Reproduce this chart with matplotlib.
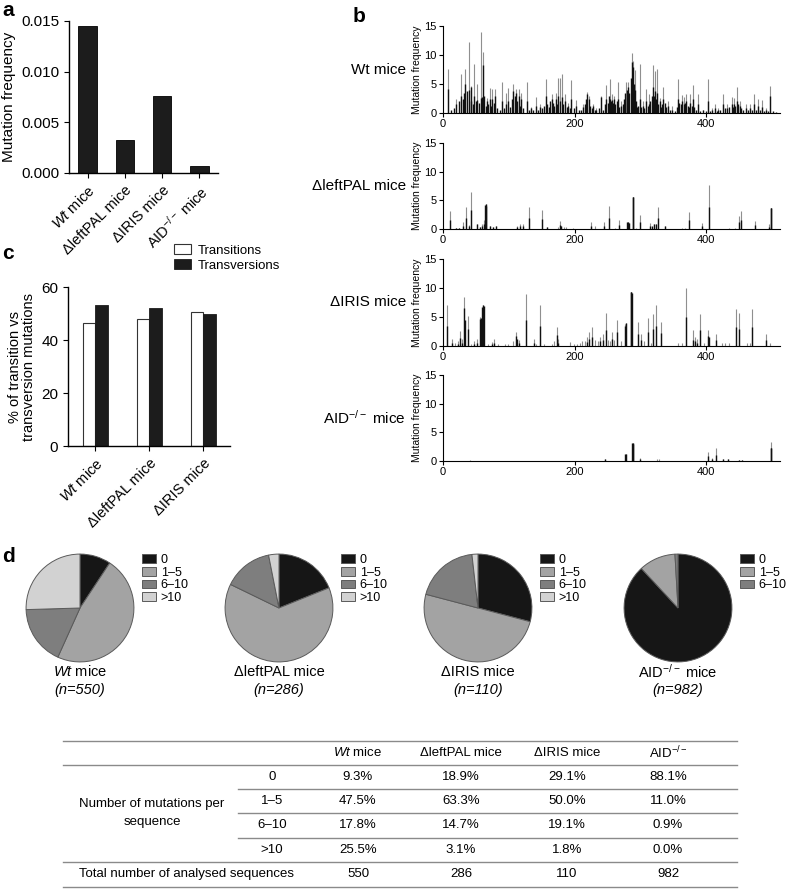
import matplotlib
matplotlib.use("Agg")
import matplotlib.pyplot as plt
from matplotlib.patches import Patch

plt.rcParams['font.family'] = ['Liberation Sans', 'DejaVu Sans']
plt.rcParams['mathtext.fontset'] = 'custom'
plt.rcParams['mathtext.rm'] = 'Liberation Sans'
plt.rcParams['mathtext.it'] = 'Liberation Sans:italic'
plt.rcParams['axes.linewidth'] = 1.0

# ---------------- data ----------------
mice = [r"$\it{Wt}$ mice", "\u0394leftPAL mice", "\u0394IRIS mice", r"AID$^{-/-}$ mice"]
mut_freq = [0.0145, 0.0033, 0.0076, 0.0007]

tt_groups = [r"$\it{Wt}$ mice", "\u0394leftPAL mice", "\u0394IRIS mice"]
transitions = [46.6, 47.8, 50.4]
transversions = [53.2, 52.2, 49.7]

# panel b: position along sequence, mutation frequency (grey = total, black = part)
wt_pos = [7, 19, 27, 34, 39.5, 43, 47.6, 52, 57, 61, 67, 71, 75, 79, 89, 95, 99, 107, 111, 115,
          119, 127, 133, 141, 147, 156, 165, 171, 175, 178, 181, 186, 190, 195, 202, 212, 219, 222,
          228, 233, 240, 248, 253, 257, 260, 266, 271, 277.5, 281, 286.6, 288.6, 291.6, 298.7, 303.8,
          308.9, 312.9, 319, 322, 325, 329, 335, 342, 348, 357.5, 363.5, 366, 369.6, 375.7, 380, 388,
          395, 402, 409, 413, 418, 425, 432, 438.5, 442.5, 446, 450.6, 459.7, 466, 472, 479, 484, 490, 497]
wt_grey = [7.6, 2.5, 6.7, 7.6, 12.3, 4.7, 8.4, 5.0, 13.9, 10.5, 2.6, 4.3, 4.1, 4.1, 5.4, 3.5, 4.3, 5.0, 4.1, 4.2,
           3.5, 5.4, 1.0, 2.7, 1.5, 5.8, 3.3, 3.5, 6.1, 6.0, 6.8, 3.2, 1.8, 5.7, 2.3, 1.5, 3.6, 2.9,
           1.6, 0.8, 2.9, 4.8, 5.8, 3.2, 2.9, 5.4, 2.0, 5.3, 5.3, 10.4, 8.9, 7.4, 8.5, 2.0,
           4.1, 3.2, 8.3, 7.3, 7.6, 2.6, 4.4, 2.0, 1.2, 5.8, 3.1, 2.7, 3.3, 3.3, 4.8, 3.3,
           0.6, 5.8, 0.8, 1.6, 0.8, 3.2, 1.6, 2.7, 2.6, 4.4, 2.0, 1.5, 1.5, 3.3, 2.5, 2.2, 0.8, 4.6]
wt_bpos = [7, 12, 17, 20, 24, 27, 30, 32, 34, 37, 39.5, 42, 43, 46, 47.6, 50, 52, 55, 57, 59, 61, 63, 65, 67,
           69, 71, 73, 75, 77, 79, 82, 86, 89, 92, 95, 99, 102, 105, 107, 109, 111, 113, 115, 117, 119,
           122, 127, 130, 133, 137, 141, 144, 147, 151, 154, 156, 158, 161, 163, 165, 167, 169, 171, 173,
           175, 178, 181, 183, 186, 188, 190, 193, 195, 199, 202, 206, 209, 212, 215, 217, 219, 222, 224,
           226, 228, 231, 233, 237, 240, 243, 246, 248, 250, 252, 253, 255, 257, 259, 260, 262, 264, 266,
           268, 271, 273, 275, 277, 279, 281, 283, 285, 286.6, 288.6, 290, 291.6, 293, 295, 297, 298.7,
           301, 304, 306, 309, 311, 313, 315, 317, 319, 321, 322, 324, 325, 327, 329, 331, 333, 335, 337,
           339, 342, 345, 348, 352, 355, 357.5, 359, 361, 363.5, 366, 368, 369.6, 372, 374, 375.7, 378,
           380, 382, 385, 388, 391, 395, 400, 402, 406, 409, 413, 416, 418, 421, 425, 428, 432, 435, 438.5,
           440, 442.5, 444, 446, 448, 450.6, 453, 456, 459.7, 463, 466, 469, 472, 475, 479, 482, 484, 487,
           490, 494, 497, 502, 506]
wt_black = [4.1, 0.5, 0.8, 1.5, 2.0, 3.0, 2.5, 3.5, 5.0, 3.8, 4.0, 2.0, 4.5, 1.5, 3.0, 2.0, 2.2, 1.8, 2.6, 2.8, 8.2, 3.0, 1.2, 2.0,
            1.5, 2.5, 1.2, 2.5, 1.8, 3.0, 0.8, 0.6, 2.0, 0.8, 1.5, 2.0, 1.0, 2.5, 3.8, 3.0, 3.5, 2.0, 3.0, 1.2, 2.5,
            0.8, 2.0, 0.6, 0.8, 0.5, 1.2, 0.6, 1.0, 0.8, 1.2, 3.0, 1.5, 1.0, 2.0, 2.5, 1.8, 1.2, 2.5, 1.5,
            3.0, 2.0, 2.8, 1.5, 2.0, 1.0, 1.2, 0.8, 2.5, 0.8, 1.2, 0.6, 0.5, 1.0, 1.5, 2.5, 3.3, 2.5, 1.2,
            0.8, 1.2, 0.5, 0.6, 0.8, 2.8, 0.6, 1.5, 2.5, 1.8, 3.0, 2.5, 2.0, 2.2, 1.8, 2.5, 1.5, 2.0, 2.5,
            1.0, 1.2, 1.5, 2.5, 3.5, 4.0, 4.5, 3.5, 6.0, 8.8, 8.0, 5.0, 4.0, 2.0, 1.0, 1.2, 2.5,
            1.0, 1.2, 0.8, 2.0, 1.2, 1.5, 2.0, 3.0, 4.5, 3.0, 3.8, 2.5, 3.5, 1.5, 2.0, 1.0, 1.5, 2.5, 1.8,
            1.0, 1.2, 0.5, 0.6, 0.4, 1.0, 2.5, 1.8, 1.5, 2.0, 1.5, 1.8, 2.0, 1.2, 1.0, 1.8, 1.2,
            2.4, 1.0, 0.6, 1.5, 0.4, 0.5, 0.3, 2.0, 0.3, 0.5, 0.8, 0.4, 0.5, 0.6, 1.5, 0.8, 0.9, 1.0, 1.5,
            1.0, 1.5, 1.2, 2.0, 1.5, 1.2, 0.8, 0.5, 0.8, 0.5, 0.9, 0.6, 1.6, 0.5, 1.2, 0.5, 1.1, 0.4,
            0.5, 0.3, 3.0, 0.3, 0.2]

pal_pos = [10, 20, 25, 31, 35.5, 39, 43, 51, 56, 60, 62, 65, 72, 76, 81, 112, 117, 121, 130, 151, 158, 174,
           177, 180, 184, 187, 197, 225, 231, 244, 252, 261, 268, 280.5, 282.5, 288.6, 293.5, 300, 314,
           320, 323, 327, 338, 363, 368, 373, 394, 404, 435, 444, 449, 453, 474, 495, 499]
pal_grey = [3.1, 0.2, 0.2, 1.3, 3.8, 0.7, 6.4, 0.8, 0.3, 0.8, 1.5, 4.3, 0.6, 0.4, 0.5, 0.6, 0.8, 0.8, 3.9, 3.4, 0.35, 0.35,
            1.4, 0.6, 0.4, 0.4, 0.1, 1.3, 0.6, 1.2, 4.0, 0.2, 1.5, 1.3, 1.0, 5.6, 0.2, 2.4, 1.1,
            0.8, 0.8, 3.8, 0.6, 0.2, 0.2, 3.0, 1.0, 7.6, 0.1, 0.2, 2.3, 3.1, 1.4, 0.8, 3.6]
pal_bpos = [10, 20, 25, 31, 35.5, 39, 43, 51, 56, 60, 62, 64, 65, 66, 72, 76, 81, 112, 117, 121, 130, 151, 158,
            177, 180, 225, 244, 252, 268, 279, 280.5, 282.5, 288, 289, 300, 314, 318, 320, 323, 327, 338,
            373, 394, 404, 449, 453, 474, 495, 498, 499]
pal_black = [1.5, 0.2, 0.2, 0.6, 2.0, 0.5, 3.3, 0.8, 0.3, 0.5, 0.8, 4.2, 4.3, 4.0, 0.6, 0.4, 0.5, 0.4, 0.5, 0.6, 2.0, 1.7, 0.3,
             0.7, 0.5, 0.6, 0.6, 2.0, 0.7, 1.3, 1.3, 1.0, 5.6, 5.6, 1.2, 0.6, 0.6, 0.8, 0.8, 2.0, 0.6,
             1.5, 0.5, 3.8, 1.2, 1.6, 0.7, 0.4, 3.6, 3.6]

iris_pos = [6, 14, 18, 23, 26, 29, 32.4, 38.5, 42.5, 47.5, 51.6, 56.7, 60.8, 69, 74, 77, 84, 94, 99, 107, 111,
            115, 125.5, 138, 142, 147, 154, 165, 169, 173, 175, 193, 199, 203.5, 207.5, 211.6, 215.6, 218.6,
            221.7, 226.8, 230.9, 236, 239, 243, 248, 251, 254, 257, 260, 264.8, 271, 276.5, 278.5, 285.6,
            296.7, 300.8, 304.8, 311, 316, 319, 323, 331, 357.5, 363.5, 368.6, 380, 383, 386, 390, 396,
            402.5, 415, 424, 429, 435, 444.5, 449, 462, 466, 470, 491, 497]
iris_grey = [7.0, 1.2, 0.6, 0.8, 2.6, 1.2, 8.4, 5.2, 0.4, 0.8, 1.2, 5.0, 7.0, 0.4, 0.7, 1.2, 0.4, 0.4, 0.4, 0.8, 2.4,
             1.0, 9.0, 1.2, 0.4, 7.0, 0.4, 0.4, 0.8, 3.2, 1.2, 0.7, 0.3, 0.4, 0.6, 0.8, 0.8, 1.5,
             2.4, 3.2, 1.0, 0.9, 1.6, 2.0, 5.7, 1.0, 0.9, 2.5, 1.0, 4.4, 0.8, 3.8, 4.0, 9.3,
             4.1, 2.1, 0.8, 4.8, 0.6, 5.6, 7.0, 4.1, 0.6, 0.6, 10.0, 2.7, 1.5, 1.2, 5.6, 0.6,
             2.7, 2.1, 0.6, 0.6, 0.6, 6.4, 5.7, 0.6, 0.6, 6.4, 2.1, 0.6]
iris_bpos = [6, 14, 23, 26, 29, 32, 33, 38.5, 47.5, 51.6, 56, 57, 60, 61, 62, 74, 77, 111, 112, 115, 125.5, 138, 147,
             173, 175, 218.6, 221.7, 226.8, 239, 243, 248, 257, 264.8, 276.5, 278.5, 285, 286, 287,
             296.7, 300.8, 311, 319, 323, 331, 368.6, 380, 383, 386, 390, 402.5, 403.5, 415, 444.5, 449,
             470, 491]
iris_black = [3.5, 0.6, 0.4, 1.3, 0.6, 6.6, 4.5, 2.9, 0.4, 0.6, 4.6, 4.8, 6.8, 7.0, 6.9, 0.4, 0.6, 1.8, 1.2, 0.5, 4.5, 0.6, 3.5,
              1.9, 0.6, 0.7, 1.2, 1.6, 0.8, 1.0, 2.8, 1.2, 2.4, 3.5, 4.0, 9.3, 9.3, 9.2,
              2.0, 1.0, 2.4, 3.0, 3.5, 2.2, 5.0, 1.0, 0.8, 0.6, 2.8, 1.8, 1.6, 1.0, 3.2, 2.9,
              3.2, 1.0]

aid_pos = [41, 246, 277.5, 288, 299, 325, 328, 402, 409, 415, 426, 433, 450, 454, 499]
aid_grey = [0.25, 0.35, 1.3, 3.1, 0.6, 0.35, 0.35, 1.5, 0.6, 2.2, 0.4, 0.4, 0.25, 0.25, 3.3]
aid_bpos = [246, 277, 278, 287, 288, 289, 299, 402, 409, 415, 426, 433, 450, 454, 498, 499]
aid_black = [0.3, 1.3, 1.2, 3.1, 3.1, 3.0, 0.3, 0.8, 0.4, 1.1, 0.3, 0.3, 0.2, 0.2, 2.2, 2.2]

# panel d
pie_labels = ["0", "1\u20135", "6\u201310", ">10"]
wt_pct = [9.3, 47.5, 17.8, 25.5]
pal_pct = [18.9, 63.3, 14.7, 3.1]
iris_pct = [29.1, 50.0, 19.1, 1.8]
aid_pct = [88.1, 11.0, 0.9, 0.0]
n_seq = [550, 286, 110, 982]
pie_colors = ["#161616", "#a3a3a3", "#7e7e7e", "#d2d2d2"]

W, H = 788, 890
fig = plt.figure(figsize=(W / 100, H / 100), dpi=100)


def box(l, t, r, b):
    return [l / W, 1 - b / H, (r - l) / W, (b - t) / H]


def clean(ax):
    ax.spines['top'].set_visible(False)
    ax.spines['right'].set_visible(False)


# ---------------- a ----------------
ax = fig.add_axes(box(69, 21, 218, 173))
ax.bar(range(4), mut_freq, width=0.49, color="#1c1c1c", edgecolor="black", lw=0.6)
ax.set_xlim(-0.5, 3.5)
ax.set_ylim(0, 0.015)
ax.set_yticks([0, 0.005, 0.010, 0.015])
ax.set_yticklabels(["0.000", "0.005", "0.010", "0.015"], fontsize=11)
ax.set_xticks(range(4))
ax.set_xticklabels(mice, rotation=45, ha='right', rotation_mode='anchor', fontsize=10.5)
ax.set_ylabel("Mutation frequency", fontsize=11, labelpad=4)
clean(ax)
fig.text(2 / W, 1 - 16 / H, "a", fontsize=15, fontweight='bold')

# ---------------- b ----------------
b_rows = [
    ("Wt mice", wt_pos, wt_grey, wt_bpos, wt_black, (26, 113)),
    ("\u0394leftPAL mice", pal_pos, pal_grey, pal_bpos, pal_black, (143, 229)),
    ("\u0394IRIS mice", iris_pos, iris_grey, iris_bpos, iris_black, (259, 346)),
    (r"AID$^{-/-}$ mice", aid_pos, aid_grey, aid_bpos, aid_black, (375, 461)),
]
for name, gp, gv, bp, bv, (t, b) in b_rows:
    ax = fig.add_axes(box(443, t, 780, b))
    ax.vlines(gp, 0, gv, color="#8f8f8f", lw=0.8)
    ax.vlines(bp, 0, bv, color="#111111", lw=1.0)
    ax.set_xlim(0, 512)
    ax.set_ylim(0, 15)
    ax.set_yticks([0, 5, 10, 15])
    ax.set_xticks([0, 200, 400])
    ax.tick_params(labelsize=8, length=3, width=0.8, pad=1.5)
    ax.set_ylabel("Mutation frequency", fontsize=7.5, labelpad=2)
    for s in ['left', 'bottom']:
        ax.spines[s].set_linewidth(0.8)
    clean(ax)
    ax.text(-0.11, 0.5, name, transform=ax.transAxes, ha='right', va='center', fontsize=11)
fig.text(353 / W, 1 - 22 / H, "b", fontsize=15, fontweight='bold')

# ---------------- c ----------------
ax = fig.add_axes(box(68, 287, 230, 446))
xs = range(3)
ax.bar([x - 0.11 for x in xs], transitions, width=0.21, color="white", edgecolor="#333333", lw=0.8,
       label="Transitions")
ax.bar([x + 0.12 for x in xs], transversions, width=0.24, color="#1c1c1c", edgecolor="#1c1c1c", lw=0.6,
       label="Transversions")
ax.set_xlim(-0.5, 2.5)
ax.set_ylim(0, 60)
ax.set_yticks([0, 20, 40, 60])
ax.tick_params(axis='y', labelsize=11)
ax.set_xticks(list(xs))
ax.set_xticklabels(tt_groups, rotation=45, ha='right', rotation_mode='anchor', fontsize=10.5)
ax.set_ylabel("% of transition vs\ntransversion mutations", fontsize=10.5, labelpad=4, linespacing=1.0)
clean(ax)
ax.legend(loc='upper left', bbox_to_anchor=(174 / W, 1 - 244 / H), bbox_transform=fig.transFigure,
          frameon=False, fontsize=9.5, handlelength=1.3, handleheight=0.8, labelspacing=0.2,
          handletextpad=0.5, borderaxespad=0, borderpad=0)
fig.text(2 / W, 1 - 259 / H, "c", fontsize=15, fontweight='bold')

# ---------------- d ----------------
pie_cx = [80, 279, 478, 678]
pie_names = [r"$\it{Wt}$ mice", "\u0394leftPAL mice", "\u0394IRIS mice", r"AID$^{-/-}$ mice"]
for cx, pct, nm, n in zip(pie_cx, [wt_pct, pal_pct, iris_pct, aid_pct], pie_names, n_seq):
    ax = fig.add_axes(box(cx - 55, 553, cx + 55, 663))
    keep = [i for i, v in enumerate(pct) if v > 0]
    wedges, _ = ax.pie([pct[i] for i in keep], colors=[pie_colors[i] for i in keep],
                       startangle=90, counterclock=False,
                       wedgeprops=dict(edgecolor="#5a5a5a", linewidth=0.7))
    ax.set_xlim(-1.02, 1.02)
    ax.set_ylim(-1.02, 1.02)
    ax.set_aspect('equal')
    handles = [Patch(facecolor=pie_colors[i], edgecolor="#5a5a5a", lw=0.7) for i in keep]
    ax.legend(handles, [pie_labels[i] for i in keep], loc='upper left',
              bbox_to_anchor=((cx + 62) / W, 1 - 554 / H), bbox_transform=fig.transFigure,
              frameon=False, fontsize=9, handlelength=1.1, handleheight=0.7, labelspacing=0.05,
              handletextpad=0.4, borderaxespad=0, borderpad=0)
    fig.text(cx / W, 1 - 672 / H, nm, ha='center', va='center', fontsize=10.5)
    fig.text(cx / W, 1 - 690 / H, "(n=%d)" % n, ha='center', va='center', fontsize=10.5, style='italic')
fig.text(2 / W, 1 - 562 / H, "d", fontsize=15, fontweight='bold')

# ---------------- table ----------------
tab = fig.add_axes(box(0, 730, W, H))
tab.set_xlim(0, W)
tab.set_ylim(H, 730)
tab.axis('off')
col_x = [358, 461, 567, 668]
col_head = [r"$\it{Wt}$ mice", "\u0394leftPAL mice", "\u0394IRIS mice", r"AID$^{-/-}$"]
row_y = [777, 801, 825, 850]
table_rows = [wt_pct, pal_pct, iris_pct, aid_pct]
lc = "#8a8a8a"
for y in [741, 765, 862, 887]:
    tab.plot([63, 737], [y, y], color=lc, lw=1.0)
for y in [789, 813, 838]:
    tab.plot([238, 737], [y, y], color=lc, lw=1.0)
for x, h in zip(col_x, col_head):
    tab.text(x, 753, h, ha='center', va='center', fontsize=9.5)
for r, y in enumerate(row_y):
    tab.text(272, y, pie_labels[r], ha='center', va='center', fontsize=9.5)
    for c, x in enumerate(col_x):
        tab.text(x, y, "%.1f%%" % table_rows[c][r], ha='center', va='center', fontsize=9.5)
tab.text(152, 804, "Number of mutations per", ha='center', va='center', fontsize=9.5)
tab.text(152, 822, "sequence", ha='center', va='center', fontsize=9.5)
tab.text(187, 874, "Total number of analysed sequences", ha='center', va='center', fontsize=9.5)
for x, n in zip(col_x, n_seq):
    tab.text(x, 874, str(n), ha='center', va='center', fontsize=9.5)

fig.savefig("out.png", dpi=100)
